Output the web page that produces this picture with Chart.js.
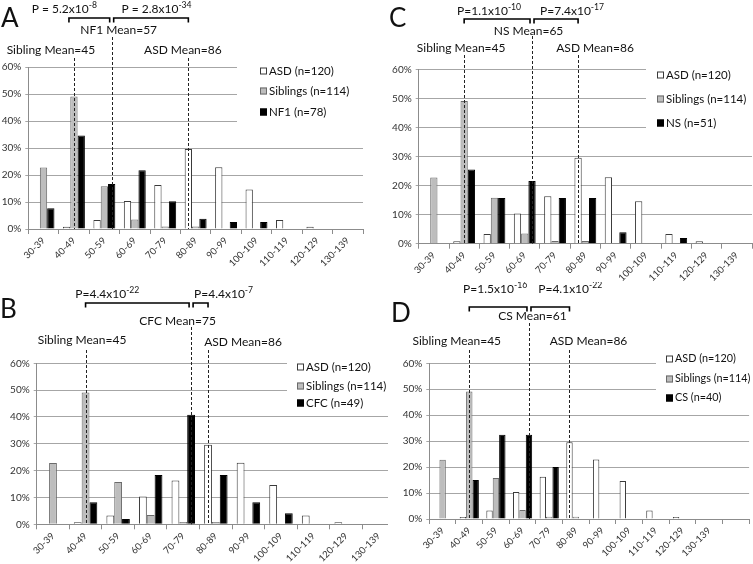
<!DOCTYPE html>
<html><head><meta charset="utf-8">
<script src="https://cdn.jsdelivr.net/npm/chart.js@4.4.1/dist/chart.umd.min.js"></script>
<style>
html,body{margin:0;padding:0;background:#fff;}
#wrap{position:relative;width:753px;height:564px;overflow:hidden;background:#fff;}
canvas{position:absolute;}
</style></head><body><div id="wrap">
<canvas id="cA" width="376" height="282" style="left:0px;top:0px;width:376px;height:282px"></canvas>
<canvas id="cC" width="377" height="282" style="left:376px;top:0px;width:377px;height:282px"></canvas>
<canvas id="cB" width="395" height="282" style="left:0px;top:282px;width:395px;height:282px"></canvas>
<canvas id="cD" width="365" height="282" style="left:388px;top:282px;width:365px;height:282px"></canvas>
</div>
<script>
// ---- data ----
const categories = ['30-39','40-49','50-59','60-69','70-79','80-89','90-99','100-109','110-119','120-129','130-139'];
const asdPct     = [0, 0.8, 3.3, 10.4, 16.3, 29.6, 22.9, 14.6, 3.3, 0.8, 0];
const siblingPct = [22.8, 49.1, 15.8, 3.5, 0.9, 0.9, 0, 0, 0, 0, 0];
const nf1Pct     = [7.7, 34.6, 16.7, 21.8, 10.3, 3.8, 2.6, 2.6, 0, 0, 0];
const nsPct      = [0, 25.5, 15.7, 21.6, 15.7, 15.7, 3.9, 0, 2.0, 0, 0];
const cfcPct     = [0, 8.2, 2.0, 18.4, 40.8, 18.4, 8.2, 4.1, 0, 0, 0];
const csPct      = [0, 15.0, 32.5, 32.5, 20.0, 0, 0, 0, 0, 0, 0];
const asdMean = 86, siblingMean = 45;
const nf1Mean = 57, nsMean = 65, cfcMean = 75, csMean = 61;
const pValuesA = [['P = 5.2x10','-8'], ['P = 2.8x10','-34']];
const pValuesB = [['P=4.4x10','-22'], ['P=4.4x10','-7']];
const pValuesC = [['P=1.1x10','-10'], ['P=7.4x10','-17']];
const pValuesD = [['P=1.5x10','-16'], ['P=4.1x10','-22']];

const FONT = "Lato, 'Open Sans', sans-serif";

const panels = [
 {id:'cA', W:376, H:282, area:[28.3,67,363,229], letter:'A', letterXY:[1,27], extraCat:false,
  syn:{label:'NF1 (n=78)', name:'NF1', data:nf1Pct, mean:nf1Mean},
  sibText:{dx:-23,y:54}, synText:{dx:7,y:34}, asdText:{dx:-5.5,y:54},
  lineTop:{sib:58,syn:37,asd:58}, bracketY:18, b1off:-5,
  p1:{dx:-25,y:13.3}, p2:{dx:5.5,y:13.3}, pv:pValuesA,
  legend:{box:[237,58,139,70], x:260, ys:[71,91,112], font:11.5}},
 {id:'cC', W:377, H:282, area:[42.7,69.3,376,243.7], letter:'C', letterXY:[13,27], extraCat:false,
  syn:{label:'NS (n=51)', name:'NS', data:nsPct, mean:nsMean},
  sibText:{dx:-3,y:51.7}, synText:{dx:-3.5,y:35}, asdText:{dx:17,y:51.7},
  lineTop:{sib:55,syn:36,asd:55}, bracketY:19, b1off:0,
  p1:{dx:-8,y:15}, p2:{dx:16,y:15}, pv:pValuesC,
  legend:{box:[270,60,107,76], x:281, ys:[75,99,123], font:11.5}},
 {id:'cB', W:395, H:282, area:[36.7,81.3,395,242.3], letter:'B', letterXY:[0,36], extraCat:false,
  syn:{label:'CFC (n=49)', name:'CFC', data:cfcPct, mean:cfcMean},
  sibText:{dx:-3.5,y:62}, synText:{dx:-13.5,y:43.3}, asdText:{dx:35,y:63.7},
  lineTop:{sib:68,syn:45,asd:68}, bracketY:21, b1off:0,
  p1:{dx:-30,y:16.3}, p2:{dx:23,y:16.3}, pv:pValuesB,
  legend:{box:[287,72,108,56], x:297, ys:[85,104,121], font:11.5}},
 {id:'cD', W:365, H:282, area:[41.3,81.3,361.1,237], letter:'D', letterXY:[3,40], extraCat:true,
  syn:{label:'CS (n=40)', name:'CS', data:csPct, mean:csMean},
  sibText:{dx:-12.5,y:63.3}, synText:{dx:3.5,y:38}, asdText:{dx:19,y:63.3},
  lineTop:{sib:68,syn:41,asd:68}, bracketY:25, b1off:0,
  p1:{dx:-3,y:11.3}, p2:{dx:20,y:11.3}, pv:pValuesD,
  legend:{box:[268,70,97,56], x:278, ys:[77,97,116], font:10.8}}
];

function drawP(ctx, cx, by, main, sup, size){
  ctx.font = size+'px '+FONT; const w1 = ctx.measureText(main).width;
  const ss = size*0.72;
  ctx.font = ss+'px '+FONT; const w2 = ctx.measureText(sup).width;
  const x = cx - (w1+w2)/2;
  ctx.textAlign='left'; ctx.textBaseline='alphabetic'; ctx.fillStyle='#111';
  ctx.font = size+'px '+FONT; ctx.fillText(main, x, by);
  ctx.font = ss+'px '+FONT; ctx.fillText(sup, x+w1, by - size*0.42);
}

function makePlugin(p){
  return {
    id:'annot_'+p.id,
    beforeDraw(chart){
      const ctx = chart.ctx; ctx.save(); ctx.fillStyle='#fff'; ctx.fillRect(0,0,chart.width,chart.height); ctx.restore();
    },
    beforeDatasetsDraw(chart){
      const ctx = chart.ctx; const b = p.legend.box;
      ctx.save(); ctx.fillStyle='#fff'; ctx.fillRect(b[0],b[1],b[2],b[3]); ctx.restore();
    },
    afterDraw(chart){
      const ctx = chart.ctx; const ca = chart.chartArea;
      const barX = (ds, idx) => chart.getDatasetMeta(ds).data[idx].x;
      const idxOf = m => Math.floor((m - 30)/10);
      const sibX = barX(1, idxOf(siblingMean));
      const asdX = barX(0, idxOf(asdMean));
      const synX = barX(2, idxOf(p.syn.mean));
      ctx.save();
      // dashed mean lines
      ctx.strokeStyle='#222'; ctx.lineWidth=1; ctx.setLineDash([3,2]);
      [[sibX,p.lineTop.sib],[synX,p.lineTop.syn],[asdX,p.lineTop.asd]].forEach(([x,t])=>{
        const xx = Math.round(x)+0.5;
        ctx.beginPath(); ctx.moveTo(xx,t); ctx.lineTo(xx,ca.bottom); ctx.stroke();
      });
      ctx.setLineDash([]);
      // mean labels
      ctx.fillStyle='#111'; ctx.font='12px '+FONT; ctx.textAlign='center'; ctx.textBaseline='alphabetic';
      ctx.fillText('Sibling Mean='+siblingMean, sibX+p.sibText.dx, p.sibText.y);
      ctx.fillText(p.syn.name+' Mean='+p.syn.mean, synX+p.synText.dx, p.synText.y);
      ctx.fillText('ASD Mean='+asdMean, asdX+p.asdText.dx, p.asdText.y);
      // brackets
      const by = p.bracketY;
      const b1 = [sibX+p.b1off, synX-2], b2 = [synX+2, asdX];
      ctx.strokeStyle='#000'; ctx.lineWidth=1.6;
      [b1,b2].forEach(([x1,x2])=>{
        ctx.beginPath(); ctx.moveTo(x1,by+4.5); ctx.lineTo(x1,by); ctx.lineTo(x2,by); ctx.lineTo(x2,by+4.5); ctx.stroke();
      });
      drawP(ctx, (b1[0]+b1[1])/2 + p.p1.dx, p.p1.y, p.pv[0][0], p.pv[0][1], 12);
      drawP(ctx, (b2[0]+b2[1])/2 + p.p2.dx, p.p2.y, p.pv[1][0], p.pv[1][1], 12);
      // letter
      ctx.fillStyle='#111'; ctx.font='26px '+FONT; ctx.textAlign='left'; ctx.textBaseline='alphabetic';
      ctx.fillText(p.letter, p.letterXY[0], p.letterXY[1]);
      // legend
      chart.data.datasets.forEach((ds,i)=>{
        const y = p.legend.ys[i]; const x = p.legend.x;
        ctx.fillStyle = ds.backgroundColor; ctx.fillRect(x, y-3.5, 7, 7);
        ctx.strokeStyle = ds.borderColor; ctx.lineWidth=1; ctx.strokeRect(x+0.5, y-3, 6, 6);
        ctx.fillStyle='#111'; ctx.font=p.legend.font+'px '+FONT; ctx.textAlign='left'; ctx.textBaseline='middle';
        ctx.fillText(ds.label, x+9, y);
      });
      ctx.restore();
    }
  };
}

panels.forEach(p=>{
  const [L,T,R,B] = p.area;
  const labels = p.extraCat ? categories.concat(['']) : categories;
  new Chart(document.getElementById(p.id), {
    type:'bar',
    data:{labels, datasets:[
      {label:'ASD (n=120)', data:asdPct, backgroundColor:'#ffffff', borderColor:'#3a3a3a', borderWidth:1},
      {label:'Siblings (n=114)', data:siblingPct, backgroundColor:'#bdbdbd', borderColor:'#6a6a6a', borderWidth:1},
      {label:p.syn.label, data:p.syn.data, backgroundColor:'#000000', borderColor:'#000000', borderWidth:1}
    ]},
    options:{
      responsive:false, animation:false, devicePixelRatio:1,
      layout:{padding:{left:0, top:T, right:p.W-R, bottom:0}, autoPadding:false},
      plugins:{legend:{display:false}, tooltip:{enabled:false}},
      datasets:{bar:{categoryPercentage:0.72, barPercentage:1}},
      scales:{
        x:{grid:{display:true, drawOnChartArea:false, drawTicks:true, tickLength:5, color:'#8c8c8c', offset:true},
           border:{display:true, color:'#8c8c8c'},
           ticks:{font:{family:FONT,size:9.5}, color:'#333', minRotation:45, maxRotation:45, autoSkip:false, padding:1},
           afterFit(s){ s.height = p.H - B; }},
        y:{min:0, max:60,
           ticks:{stepSize:10, callback:v=>v+'%', font:{family:FONT,size:10}, color:'#333', padding:4},
           grid:{color:'#a6a6a6', tickLength:3, drawTicks:true},
           border:{display:true, color:'#8c8c8c'},
           afterFit(s){ s.width = L; }}
      }
    },
    plugins:[makePlugin(p)]
  });
});
</script></body></html>
